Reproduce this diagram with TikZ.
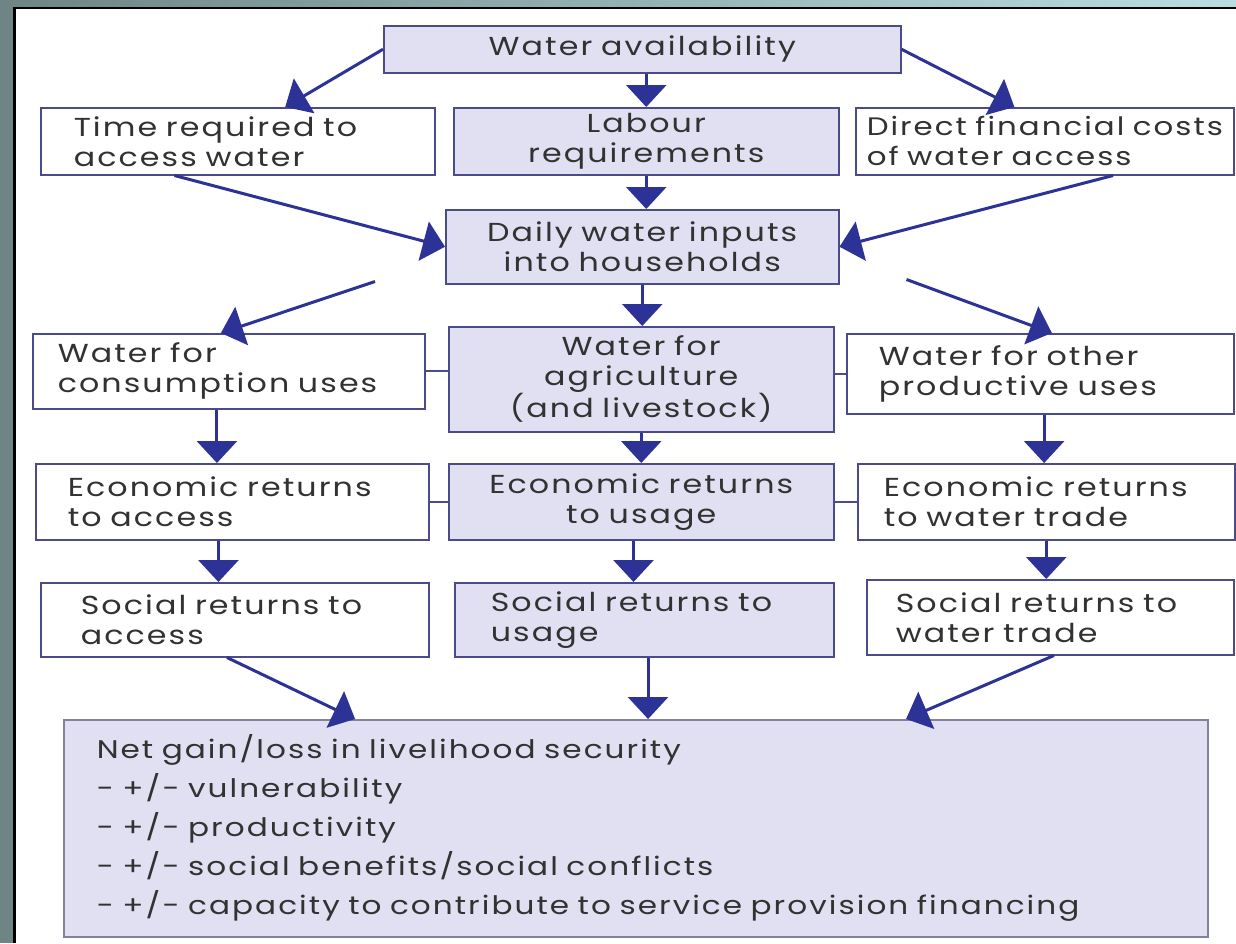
\documentclass[tikz,border=0pt]{standalone}
\usepackage{fontspec}
\setmainfont{Poppins}[FakeStretch=1.22, LetterSpace=8, WordSpace=2.5]
\lefthyphenmin=62
\righthyphenmin=62
\usetikzlibrary{arrows.meta,calc}
\definecolor{arrowblue}{RGB}{45,50,150}
\definecolor{boxline}{RGB}{75,75,140}
\definecolor{boxfill}{RGB}{224,224,242}
\definecolor{netline}{RGB}{130,130,155}
\definecolor{txt}{RGB}{50,50,50}
\definecolor{frameL}{RGB}{110,132,133}
\definecolor{frameR}{RGB}{185,222,225}
\begin{document}
\begin{tikzpicture}[x=1pt,y=-1pt,
  box/.style={draw=boxline, line width=1.5pt, rectangle, anchor=north west, text=txt,
    font=\fontsize{26}{30}\selectfont, inner ysep=0pt},
  wbox/.style={box, fill=white},
  fbox/.style={box, fill=boxfill},
  arr/.style={draw=arrowblue, line width=3pt, -{Triangle[length=22pt,width=40pt]}},
  link/.style={draw=boxline, line width=2pt}]
\useasboundingbox (0,0) rectangle (1236,943);
\fill[white] (0,0) rectangle (1236,943);
\fill[frameL] (0,0) rectangle (13,943);
\shade[left color=frameL, right color=frameR] (0,0) rectangle (1236,6.5);
\fill[black] (13,6.5) rectangle (15.5,943);
\fill[black] (13,6.5) rectangle (1236,8.5);

% row 1
\node[fbox, inner xsep=0pt, text width=517pt, minimum height=47pt, align=center] (wa) at (383,25) {Water~availability};
% row 2
\node[wbox, inner xsep=33pt, text width=328pt, minimum height=67pt, align=left] (time) at (40,107) {\mbox{Time required to}\\\mbox{access water}};
\node[fbox, inner xsep=0pt, text width=385pt, minimum height=67pt, align=center] (lab) at (453,107) {Labour\\requirements};
\node[wbox, inner xsep=11pt, text width=356pt, minimum height=67pt, align=left,
  font=\fontsize{25.3}{30}\selectfont] (dir) at (855,107) {\mbox{Direct financial costs}\\\mbox{of water access}};
% row 3
\node[fbox, inner xsep=0pt, text width=393pt, minimum height=74pt, align=center] (daily) at (445,209) {Daily~water~inputs\\into~households};
% row 4
\node[wbox, inner xsep=25pt, text width=342pt, minimum height=75pt, align=left] (cons) at (32,333) {\mbox{Water for}\\\mbox{consumption uses}};
\node[fbox, inner xsep=0pt, text width=385pt, minimum height=105pt, align=center] (agr) at (448,326) {Water~for\\agriculture\\(and~livestock)};
\node[wbox, inner xsep=32pt, text width=323pt, minimum height=80pt, align=left] (oth) at (846,333) {\mbox{Water for other}\\\mbox{productive uses}};
% row 5
\node[wbox, inner xsep=32pt, text width=329pt, minimum height=76pt, align=left] (eacc) at (35,463) {\mbox{Economic returns}\\\mbox{to access}};
\node[fbox, inner xsep=0pt, text width=385pt, minimum height=76pt, align=center] (euse) at (448,463) {Economic~returns\\to~usage};
\node[wbox, inner xsep=26pt, text width=325pt, minimum height=76pt, align=left] (etr) at (857,463) {\mbox{Economic returns}\\\mbox{to water trade}};
% row 6
\node[wbox, inner xsep=40pt, text width=308pt, minimum height=74pt, align=left] (sacc) at (40,582) {\mbox{Social returns to}\\\mbox{access}};
\node[fbox, inner xsep=36pt, text width=307pt, minimum height=74pt, align=left] (suse) at (454,582) {\mbox{Social returns to}\\\mbox{usage}};
\node[wbox, inner xsep=29pt, text width=309pt, minimum height=75pt, align=left] (str) at (866,579) {\mbox{Social returns to}\\\mbox{water trade}};
% net
\node[fbox, draw=netline, inner xsep=33pt, text width=1078pt, minimum height=217pt, align=left,
  font=\fontsize{25.5}{39}\selectfont] (net) at (63,719)
  {\mbox{Net gain/loss in livelihood security}\\
   \mbox{- +/- vulnerability}\\
   \mbox{- +/- productivity}\\
   \mbox{- +/- social benefits/social conflicts}\\
   \mbox{- +/- capacity to contribute to service provision financing}};

% side links
\draw[link] (cons.east) -- (cons.east -| agr.west);
\draw[link] (oth.west -| agr.east) -- (oth.west);
\draw[link] (eacc.east) -- (eacc.east -| euse.west);
\draw[link] (euse.east) -- (euse.east -| etr.west);

% arrows
\draw[arr] (wa.west) -- ($(time.north west)!0.62!(time.north east)$);
\draw[arr] (lab.north |- wa.south) -- (lab.north);
\draw[arr] (wa.east) -- ($(dir.north west)!0.42!(dir.north east)$);
\draw[arr] ($(time.south west)!0.34!(time.south east)$) -- (daily.west);
\draw[arr] (lab.south) -- (lab.south |- daily.north);
\draw[arr] ($(dir.south west)!0.68!(dir.south east)$) -- (daily.east);
\coordinate (dl) at ($(daily.south west)+(-70,-3)$);
\coordinate (dr) at ($(daily.south east)+(67,-5)$);
\draw[arr] (dl) -- ($(cons.north west)!0.48!(cons.north east)$);
\draw[arr] (daily.south) -- (daily.south |- agr.north);
\draw[arr] (dr) -- ($(oth.north west)!0.53!(oth.north east)$);
\draw[arr] ($(cons.south west)!0.47!(cons.south east)$) coordinate (c1) -- (c1 |- eacc.north);
\draw[arr] (agr.south) -- (agr.south |- euse.north);
\draw[arr] ($(oth.south west)!0.51!(oth.south east)$) coordinate (c2) -- (c2 |- etr.north);
\draw[arr] ($(eacc.south west)!0.465!(eacc.south east)$) coordinate (c3) -- (c3 |- sacc.north);
\draw[arr] ($(euse.south west)!0.48!(euse.south east)$) coordinate (c4) -- (c4 |- suse.north);
\draw[arr] ($(etr.south west)!0.50!(etr.south east)$) coordinate (c5) -- (c5 |- str.north);
\draw[arr] ($(sacc.south west)!0.48!(sacc.south east)$) -- ($(net.north west)!0.255!(net.north east)$);
\draw[arr] ($(suse.south west)!0.51!(suse.south east)$) coordinate (c6) -- (c6 |- net.north);
\draw[arr] ($(str.south west)!0.51!(str.south east)$) -- ($(net.north west)!0.736!(net.north east)$);
\end{tikzpicture}
\end{document}
